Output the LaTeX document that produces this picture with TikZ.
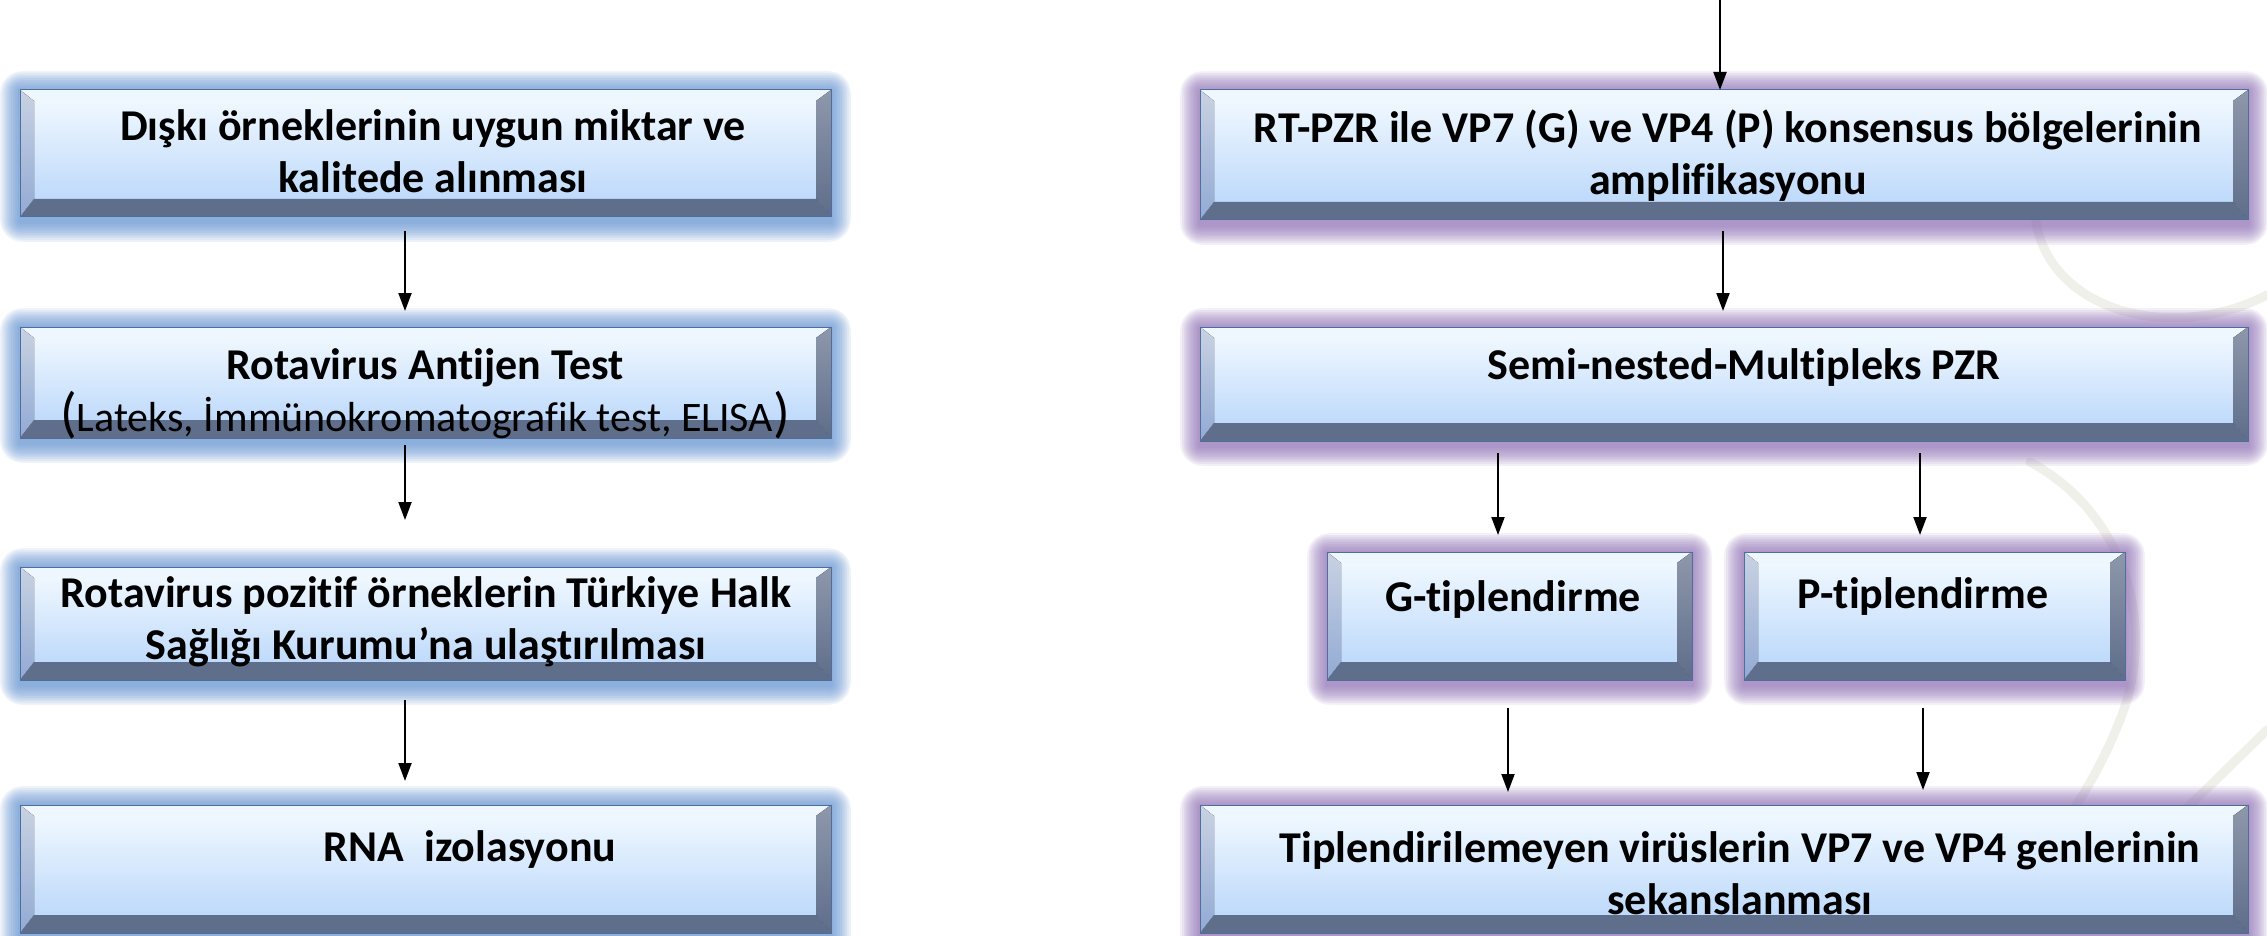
\documentclass[tikz,border=0pt]{standalone}
\usepackage{fontspec}
\setmainfont{Carlito}[Ligatures={NoCommon,NoRare,NoContextual}]
\usetikzlibrary{arrows.meta,calc,backgrounds}
\definecolor{faceTop}{HTML}{F5FBFF}
\definecolor{faceBot}{HTML}{B5D4FA}
\definecolor{bevTop}{HTML}{EEF6FE}
\definecolor{bevLa}{HTML}{C8D2E2}
\definecolor{bevLb}{HTML}{93AAD4}
\definecolor{bevRa}{HTML}{8E98AB}
\definecolor{bevRb}{HTML}{5F6D8A}
\definecolor{bevB}{HTML}{5F6E8B}
\definecolor{edgeC}{HTML}{4D6E9E}
\definecolor{glowBlue}{HTML}{5F90D2}
\definecolor{glowPurple}{HTML}{8E6DB5}
\definecolor{swoosh}{HTML}{F0F0EA}
\tikzset{
  bevelbox/.style={draw=edgeC, line width=1pt, top color=faceTop, bottom color=faceBot,
    inner sep=0pt, outer sep=0pt,
    path picture={
      \coordinate (pSW) at (path picture bounding box.south west);
      \coordinate (pNE) at (path picture bounding box.north east);
      \coordinate (pNW) at (path picture bounding box.north west);
      \coordinate (pSE) at (path picture bounding box.south east);
      \coordinate (iNW) at ($(pNW)+(14pt,-11pt)$);
      \coordinate (iNE) at ($(pNE)+(-15pt,-11pt)$);
      \coordinate (iSW) at ($(pSW)+(14pt,18pt)$);
      \coordinate (iSE) at ($(pSE)+(-15pt,18pt)$);
      \fill[bevTop] (pNW) -- (pNE) -- (iNE) -- (iNW) -- cycle;
      \fill[top color=bevLa,bottom color=bevLb] (pNW) -- (iNW) -- (iSW) -- (pSW) -- cycle;
      \fill[top color=bevRa,bottom color=bevRb] (pNE) -- (pSE) -- (iSE) -- (iNE) -- cycle;
      \fill[bevB] (pSW) -- (iSW) -- (iSE) -- (pSE) -- cycle;
    }},
  lbl/.style={font=\bfseries\fontsize{44}{52}\selectfont, align=center, anchor=north,
    text height=32pt, inner sep=0pt},
  arr/.style={line width=2pt, -{Triangle[length=18pt,width=13pt]}},
  swooshst/.style={draw=swoosh, line width=9pt, line cap=round},
}
\begin{document}
\begin{tikzpicture}[x=1pt,y=-1pt]
\useasboundingbox (0,0) rectangle (2267,936);
% boxes
\node[bevelbox, minimum width=811pt, minimum height=127pt] (b1) at (425.5,153.5) {};
\node[bevelbox, minimum width=811pt, minimum height=111pt] (b2) at (425.5,382.5) {};
\node[bevelbox, minimum width=811pt, minimum height=113pt] (b3) at (425.5,623.5) {};
\node[bevelbox, minimum width=811pt, minimum height=128pt] (b4) at (425.5,869) {};
\node[bevelbox, minimum width=1048pt, minimum height=130pt] (r1) at (1724,155) {};
\node[bevelbox, minimum width=1048pt, minimum height=114pt] (r2) at (1724,384) {};
\node[bevelbox, minimum width=365pt, minimum height=128pt] (g) at (1509.5,616) {};
\node[bevelbox, minimum width=381pt, minimum height=128pt] (p) at (1934.5,616) {};
\node[bevelbox, minimum width=1048pt, minimum height=128pt] (r4) at (1724,869) {};
% texts (two-line nodes: north refers to last line, hence +52)
\node[lbl] (t1) at (433,160) {Dışkı örneklerinin uygun miktar ve\\kalitede alınması};
\node[lbl] (t2) at (425,399) {Rotavirus Antijen Test\\{\mdseries\fontsize{42}{52}\selectfont{\fontsize{55}{52}\selectfont(}Lateks, İmmünokromatografik test, ELISA{\fontsize{55}{52}\selectfont)}}};
\node[lbl] (t3) at (426,627) {Rotavirus pozitif örneklerin Türkiye Halk\\Sağlığı Kurumu’na ulaştırılması};
\node[lbl] (t4) at (470,829) {RNA\ \ izolasyonu};
\node[lbl] (tr1) at (1728,162) {RT-PZR ile VP7 (G) ve VP4 (P) konsensus bölgelerinin\\amplifikasyonu};
\node[lbl] (tr2) at (1744,347) {Semi-nested-Multipleks PZR};
\node[lbl] (tg) at (1513,579) {G-tiplendirme};
\node[lbl] (tp) at (1923,576) {P-tiplendirme};
\node[lbl] (tr4) at (1740,882) {Tiplendirilemeyen virüslerin VP7 ve VP4 genlerinin\\sekanslanması};
% arrows
\coordinate (topin) at (1720,0);
\draw[arr] (topin) -- (topin |- r1.north);
\draw[arr, shorten <=14pt, shorten >=16pt] ($(b1.south)+(-20.5,0)$) -- ($(b2.north)+(-20.5,0)$);
\draw[arr, shorten <=7pt, shorten >=47pt] ($(b2.south)+(-20.5,0)$) -- ($(b3.north)+(-20.5,0)$);
\draw[arr, shorten <=20pt, shorten >=24pt] ($(b3.south)+(-20.5,0)$) -- ($(b4.north)+(-20.5,0)$);
\draw[arr, shorten <=11pt, shorten >=16pt] ($(r1.south)+(-1,0)$) -- ($(r2.north)+(-1,0)$);
\draw[arr, shorten <=12pt, shorten >=17pt] ($(r2.south)+(-226,0)$) -- ($(g.north)+(-11.5,0)$);
\draw[arr, shorten <=12pt, shorten >=17pt] ($(r2.south)+(196,0)$) -- ($(p.north)+(-14.5,0)$);
\draw[arr, shorten <=28pt, shorten >=13pt] ($(g.south)+(-1.5,0)$) -- ($(r4.north)+(-216,0)$);
\draw[arr, shorten <=28pt, shorten >=15pt] ($(p.south)+(-11.5,0)$) -- ($(r4.north)+(199,0)$);
% background: white, swooshes, glows
\begin{pgfonlayer}{background}
\fill[white] (0,0) rectangle (2267,936);
\draw[swooshst] (2035,215) .. controls (2045,310) and (2170,345) .. (2267,295);
\draw[swooshst] (2030,462) .. controls (2120,510) and (2160,620) .. (2120,720) .. controls (2100,770) and (2080,800) .. (2060,830);
\draw[swooshst] (2267,730) -- (2185,810);
\foreach \n/\c in {b1/glowBlue,b2/glowBlue,b3/glowBlue,b4/glowBlue,r1/glowPurple,r2/glowPurple,g/glowPurple,p/glowPurple,r4/glowPurple}{
  \foreach \i in {1,...,11}{
    \pgfmathsetmacro\rr{2*\i}
    \fill[\c, opacity=0.1, rounded corners=\rr pt] ($(\n.south west)+(-1.8pt*\i,-1.8pt*\i-5pt)$) rectangle ($(\n.north east)+(1.8pt*\i,1.8pt*\i-1pt)$);
  }
}
\end{pgfonlayer}
\end{tikzpicture}
\end{document}
